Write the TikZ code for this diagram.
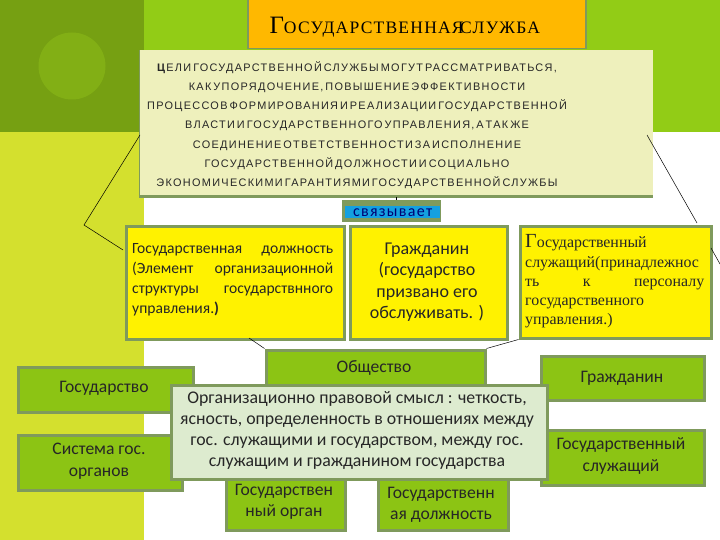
\documentclass[tikz,border=0pt]{standalone}
\usepackage{fontspec}
\setmainfont{DejaVu Sans}
\newfontfamily\serifcyr{Liberation Serif}
\newfontfamily\spaced[LetterSpace=12]{Liberation Sans}
\newfontfamily\wide{Carlito}
\newcommand{\tightsp}{\spaceskip=2pt plus 0pt\relax}
\definecolor{darkgreen}{HTML}{76A012}
\definecolor{topgreen}{HTML}{92CC16}
\definecolor{lime}{HTML}{D4E02E}
\definecolor{orangebar}{HTML}{FFB800}
\definecolor{paper}{HTML}{EEF0BC}
\definecolor{edgegray}{HTML}{7F9A5C}
\definecolor{boxgreen}{HTML}{8CC414}
\definecolor{pale}{HTML}{DDEBCF}
\definecolor{skyb}{HTML}{14A0E0}
\definecolor{discgreen}{HTML}{82AF15}
\tikzset{
  yellowbox/.style={draw=edgegray,line width=3pt,fill=yellow,anchor=north west,inner sep=0pt},
  greenbox/.style={draw=edgegray,line width=3pt,fill=boxgreen,anchor=north west,inner sep=0pt},
  link/.style={draw=black,line width=0.5pt},
  bodytext/.style={font=\fontsize{17.6}{21.5}\selectfont\wide,text=black!85,align=center}
}
\begin{document}
\begin{tikzpicture}[x=1pt,y=-1pt]
\useasboundingbox (0,0) rectangle (720,540);
\fill[white] (0,0) rectangle (720,540);
\fill[topgreen] (144,0) rectangle (720,132);
\fill[darkgreen] (0,0) rectangle (144,132);
\fill[lime] (0,132) rectangle (144,540);
\fill[discgreen] (72,66) circle (33.5);
% title
\node[draw=edgegray,line width=1.5pt,fill=orangebar,anchor=north west,minimum width=338,minimum height=50,inner sep=0pt] (title) at (247,-2) {};
\node[font=\fontsize{17.5}{20}\selectfont\serifcyr,text=black,anchor=west] (titletext) at (266,27) {\fontsize{25}{26}\selectfont Г\fontsize{17.5}{20}\selectfont\addfontfeature{LetterSpace=7}ОСУДАРСТВЕННАЯ\hspace{-9pt} СЛУЖБА};
% main text box
\fill[edgegray] (139,50) rectangle (653,198);
\node[fill=paper,anchor=north west,minimum width=513,minimum height=145,inner sep=0pt] (goals) at (140,50) {};
\node[font=\fontsize{10.9}{19.2}\selectfont\spaced,text=black!85,align=center,anchor=north] (goalstext) at (357,58) {\tightsp\textbf{Ц}ЕЛИ ГОСУДАРСТВЕННОЙ СЛУЖБЫ МОГУТ РАССМАТРИВАТЬСЯ,\\
\tightsp КАК УПОРЯДОЧЕНИЕ, ПОВЫШЕНИЕ ЭФФЕКТИВНОСТИ\\
\tightsp ПРОЦЕССОВ ФОРМИРОВАНИЯ И РЕАЛИЗАЦИИ ГОСУДАРСТВЕННОЙ\\
\tightsp ВЛАСТИ И ГОСУДАРСТВЕННОГО УПРАВЛЕНИЯ, А ТАК ЖЕ\\
\tightsp СОЕДИНЕНИЕ ОТВЕТСТВЕННОСТИ ЗА ИСПОЛНЕНИЕ\\
\tightsp ГОСУДАРСТВЕННОЙ ДОЛЖНОСТИ И СОЦИАЛЬНО\\
\tightsp ЭКОНОМИЧЕСКИМИ ГАРАНТИЯМИ ГОСУДАРСТВЕННОЙ СЛУЖБЫ};
% link label
\node[fill=edgegray,anchor=north west,minimum width=99,minimum height=22,inner sep=0pt] (tiesback) at (342,200) {};
\node[fill=skyb,anchor=north west,minimum width=95,minimum height=12,inner sep=0pt,font=\fontsize{16}{12}\selectfont\wide\addfontfeature{LetterSpace=8},text=blue!45!black] (ties) at (345,206) {связывает};
% yellow boxes
\node[yellowbox,minimum width=218,minimum height=112] (post) at (124.5,225.5) {};
\node[font=\fontsize{15.6}{20}\selectfont\wide,text=black!85,align=justify,text width=201,anchor=north west,inner sep=0pt] (posttext) at (132,243) {Государственная\hfill должность\\(Элемент\hfill организационной\\структуры\hfill государствнного\\управления.\textbf{)}};
\node[yellowbox,minimum width=157,minimum height=112] (citizenY) at (349,225.5) {};
\node[font=\fontsize{18}{21.5}\selectfont\wide,text=black!85,align=center,anchor=center] (citizenYtext) at (427,282) {Гражданин\\(государство\\призвано его\\обслуживать. )};
\node[yellowbox,minimum width=191,minimum height=111] (servant) at (518.5,225.5) {};
\node[font=\fontsize{15.9}{19.3}\selectfont\serifcyr,text=black!85,align=left,text width=179,anchor=north west,inner sep=0pt] (servanttext) at (525,234.5) {{\fontsize{20}{16}\selectfont Г}осударственный\\служащий(принадлежнос\\ть\hfill к\hfill персоналу\\государственного\\управления.)};
% green boxes
\node[greenbox,minimum width=175,minimum height=45] (state) at (16.5,365.5) {};
\node[bodytext,anchor=center] (statetext) at (104,388) {Государство};
\node[greenbox,minimum width=164,minimum height=55] (organs) at (16.5,433.5) {};
\node[bodytext,anchor=center] (organstext) at (99,461) {Система гос.\\органов};
\node[greenbox,minimum width=219,minimum height=50] (society) at (264.5,348.5) {};
\node[bodytext,anchor=center] (societytext) at (374,368) {Общество};
\node[greenbox,minimum width=163,minimum height=44] (citizenG) at (539.5,354.5) {};
\node[bodytext,anchor=center] (citizenGtext) at (622,378) {Гражданин};
\node[greenbox,minimum width=163,minimum height=55] (servantG) at (539.5,428.5) {};
\node[bodytext,anchor=center] (servantGtext) at (621,456) {Государственный\\служащий};
\node[greenbox,minimum width=119,minimum height=60] (organG) at (224.5,468.5) {};
\node[bodytext,anchor=center] (organGtext) at (284,502) {Государствен\\ный орган};
\node[greenbox,minimum width=130,minimum height=60] (postG) at (376.5,468.5) {};
\node[bodytext,anchor=center] (postGtext) at (441,505) {Государственн\\ая должность};
% sense box
\node[draw=edgegray,line width=3pt,fill=pale,anchor=north west,minimum width=376,minimum height=94,inner sep=0pt] (sense) at (169.5,383.5) {};
\node[font=\fontsize{17.8}{21}\selectfont\wide,text=black!85,align=center,anchor=center] (sensetext) at (357,430) {Организационно правовой смысл : четкость,\\ясность, определенность в отношениях между\\гос. служащими и государством, между гос.\\служащим и гражданином государства};
% connectors
\coordinate (kneeL) at (84,225);
\coordinate (goalL) at (140,135);
\coordinate (goalR) at (647,135);
\coordinate (servT) at (697,223);
\coordinate (exitR) at (720,264);
\coordinate (servR) at (711,248);
\coordinate (postIn) at (123,250);
\coordinate (tieTop) at (396,197);
\coordinate (tieUp) at (396,200);
\coordinate (postLow) at (249,338);
\draw[link] (goalL) -- (kneeL) -- (postIn);
\draw[link] (goalR) -- (servT);
\draw[link] (servR) -- (exitR);
\draw[link] (tieTop) -- (tieUp);
\draw[link] (postLow) -- (society.north west);
\draw[link] (society.north east) -- (servant.south west);
\end{tikzpicture}
\end{document}
